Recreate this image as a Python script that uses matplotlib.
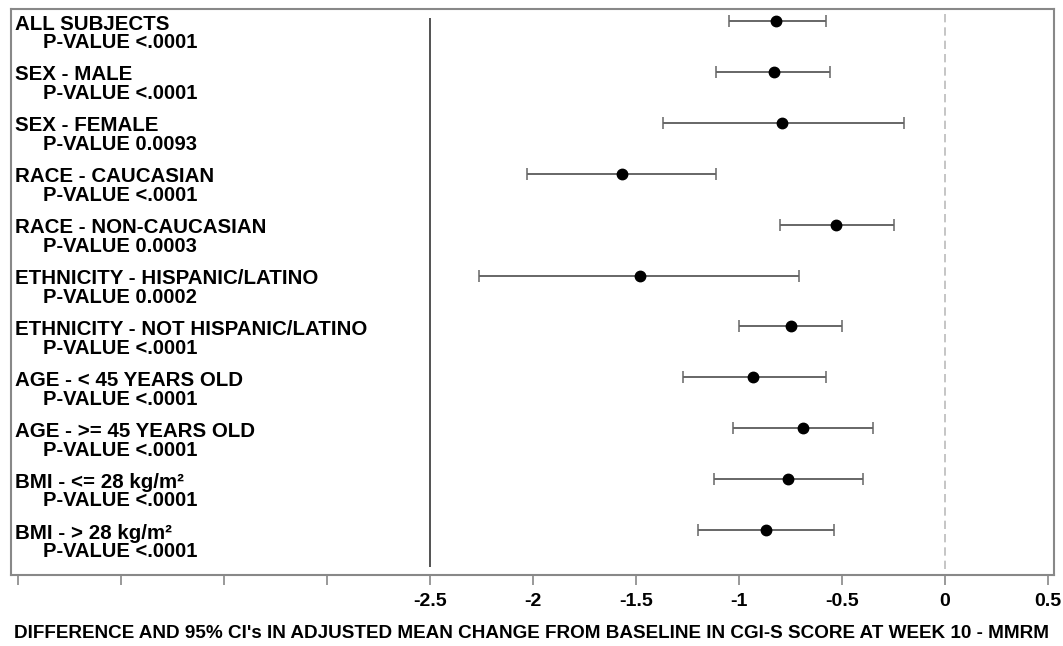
import matplotlib
matplotlib.use("Agg")
import matplotlib.pyplot as plt

# subgroup labels and p-values
groups = ["ALL SUBJECTS", "SEX - MALE", "SEX - FEMALE", "RACE - CAUCASIAN",
          "RACE - NON-CAUCASIAN", "ETHNICITY - HISPANIC/LATINO",
          "ETHNICITY - NOT HISPANIC/LATINO", "AGE - < 45 YEARS OLD",
          "AGE - >= 45 YEARS OLD", "BMI - <= 28 kg/m\u00b2", "BMI - > 28 kg/m\u00b2"]
pvals = ["<.0001", "<.0001", "0.0093", "<.0001", "0.0003", "0.0002",
         "<.0001", "<.0001", "<.0001", "<.0001", "<.0001"]

# difference and 95% CI
est = [-0.82, -0.83, -0.79, -1.57, -0.53, -1.48, -0.75, -0.93, -0.69, -0.76, -0.87]
lo = [-1.05, -1.11, -1.37, -2.03, -0.80, -2.26, -1.00, -1.27, -1.03, -1.12, -1.20]
hi = [-0.58, -0.56, -0.20, -1.11, -0.25, -0.71, -0.50, -0.58, -0.35, -0.40, -0.54]

xticks = [-4.5, -4, -3.5, -3, -2.5, -2, -1.5, -1, -0.5, 0, 0.5]
xticklabels = ["", "", "", "", "-2.5", "-2", "-1.5", "-1", "-0.5", "0", "0.5"]

plt.rcParams["font.family"] = ["Liberation Sans", "DejaVu Sans"]
plt.rcParams["font.weight"] = "bold"

fig = plt.figure(figsize=(10.63, 6.46), dpi=100)
ax = fig.add_axes([11 / 1063, 1 - 575 / 646, 1043 / 1063, 566 / 646])

ypos = list(range(len(groups)))
xerr = [[e - l for e, l in zip(est, lo)], [h - e for e, h in zip(est, hi)]]
ax.errorbar(est, ypos, xerr=xerr, fmt="none", ecolor="#666666", elinewidth=1.4,
            capsize=4, capthick=1.1, zorder=2)
ax.plot(est, ypos, "o", color="black", markersize=7.5, zorder=3)

for i in ypos:
    ax.text(-4.515, i + 0.06, groups[i], fontsize=14.8, fontweight="bold", va="center", ha="left")
    ax.text(-4.38, i + 0.43, "P-VALUE " + pvals[i], fontsize=14.5, fontweight="bold",
            va="center", ha="left")

ax.vlines(-2.5, -0.06, 10.73, color="#444444", lw=1.3, zorder=1)
ax.vlines(0, -0.14, 11, color="#bbbbbb", lw=1.2, linestyles=(0, (5, 3)), zorder=1)

ax.set_xlim(-4.534, 0.529)
ax.set_ylim(10.884, -0.236)
ax.set_yticks([])
ax.set_xticks(xticks)
ax.set_xticklabels(xticklabels, fontsize=14, fontweight="bold")
ax.tick_params(axis="x", direction="out", length=7, width=1.2, color="#888888", pad=6)
for s in ax.spines.values():
    s.set_color("#888888")
    s.set_linewidth(1.5)

fig.text(0.5, 1 - 633 / 646,
         "DIFFERENCE AND 95% CI's IN ADJUSTED MEAN CHANGE FROM BASELINE IN CGI-S SCORE AT WEEK 10 - MMRM",
         ha="center", va="center", fontsize=13.6, fontweight="bold")

fig.savefig("out.png", dpi=100)
